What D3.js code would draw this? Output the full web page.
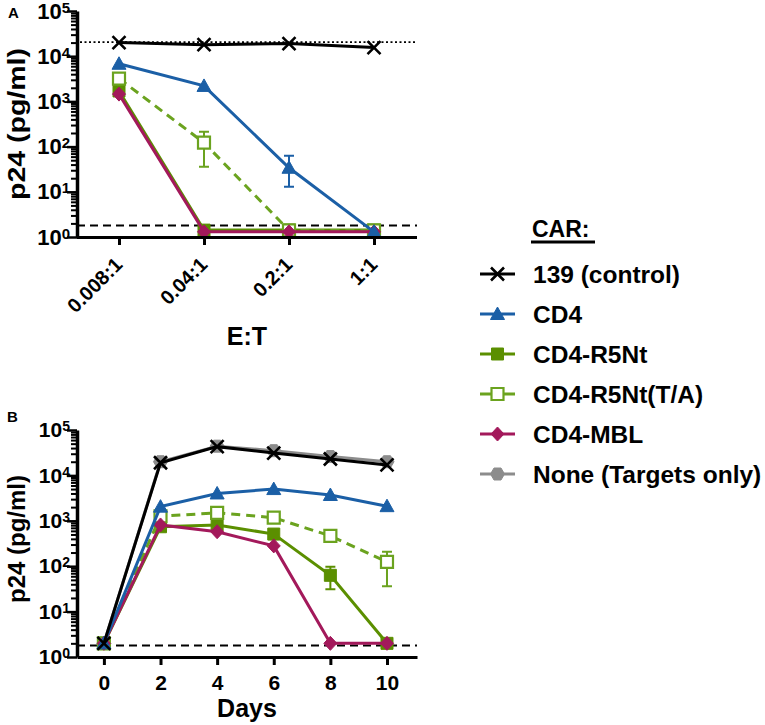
<!DOCTYPE html>
<html>
<head>
<meta charset="utf-8">
<title>p24 CAR panels</title>
<script src="https://d3js.org/d3.v7.min.js"></script>
<style>
  body { margin: 0; background: #fff; }
  text { font-family: "Liberation Sans", Arial, sans-serif; font-weight: bold; fill: #000; }
</style>
</head>
<body>
<div id="chart"></div>
<script>
// ---- data ----
var ratios = ["0.008:1", "0.04:1", "0.2:1", "1:1"];
var days = [0, 2, 4, 6, 8, 10];
var seriesNames = ["139 (control)", "CD4", "CD4-R5Nt", "CD4-R5Nt(T/A)", "CD4-MBL", "None (Targets only)"];
var seriesColors = ["#000000", "#1b5fa6", "#5b8f00", "#6ba31f", "#a3195b", "#8c8c8c"];
var seriesMarkers = ["x", "triangle", "square", "openSquare", "diamond", "hexagon"];

// panel A: E:T titration
var ctrlA = [20000, 18000, 19000, 15500];
var cd4A = [6800, 2200, 34, 1.3];
var r5ntA = [1700, 1.42, 1.42, 1.42];
var r5ntTAA = [3200, 122, 1.4, 1.4];
var mblA = [1450, 1.3, 1.3, 1.3];
var cd4ErrA = [null, null, [13, 63], null];
var r5ntTAErrA = [null, [36, 214], null, null];
var targetsOnlyA = 20500;

// panel B: time course
var ctrlB = [2, 19000, 43000, 31000, 23000, 17000];
var cd4B = [2, 2050, 4000, 5000, 3700, 2100];
var r5ntB = [2, 740, 810, 510, 63, 2];
var r5ntTAB = [2, 1260, 1500, 1170, 466, 125];
var mblB = [2, 810, 575, 280, 2, 2];
var noneB = [2, 20000, 44000, 35000, 26000, 20000];
var r5ntErrB = [null, null, null, null, [31, 97], null];
var r5ntTAErrB = [null, null, null, null, null, [36, 208]];

var detectionLimit = 1.8;
var yMajor = [1, 10, 100, 1000, 10000, 100000];
var yMinor = [];
[1, 10, 100, 1000, 10000].forEach(function(d) {
  for (var k = 2; k <= 9; k++) yMinor.push(d * k);
});

// ---- svg ----
var svg = d3.select("#chart").append("svg")
  .attr("width", 765)
  .attr("height", 725);

svg.append("rect").attr("width", 765).attr("height", 725).attr("fill", "#fff");

// marker path by type
function markerPath(type) {
  if (type == "x") return "M-6.5,-6.5L6.5,6.5M-6.5,6.5L6.5,-6.5";
  if (type == "triangle") return "M0,-7L7,5.5L-7,5.5Z";
  if (type == "square" || type == "openSquare") return "M-6,-6H6V6H-6Z";
  if (type == "diamond") return "M0,-7L6.5,0L0,7L-6.5,0Z";
  return "M-7,0L-3.5,-6L3.5,-6L7,0L3.5,6L-3.5,6Z";
}

function drawMarker(g, type, color, cx, cy) {
  var p = g.append("path")
    .attr("d", markerPath(type))
    .attr("transform", "translate(" + cx + "," + cy + ")");
  if (type == "x") {
    p.attr("fill", "none").attr("stroke", color).attr("stroke-width", 2.6);
  } else if (type == "openSquare") {
    p.attr("fill", "#fff").attr("stroke", color).attr("stroke-width", 2.2);
  } else {
    p.attr("fill", color).attr("stroke", color).attr("stroke-width", 1);
  }
}

function drawSeries(g, xs, vals, x, y, idx, dashed, err) {
  var color = seriesColors[idx];
  var pts = xs.map(function(d, i) { return [x(d), y(vals[i])]; });
  g.append("path")
    .attr("d", d3.line()(pts))
    .attr("fill", "none")
    .attr("stroke", color)
    .attr("stroke-width", 3)
    .attr("stroke-dasharray", dashed ? "9,6" : null);
  if (err) {
    err.forEach(function(e, i) {
      if (!e) return;
      var cx = x(xs[i]);
      g.append("path")
        .attr("d", "M" + cx + "," + y(e[0]) + "V" + y(e[1]) +
          "M" + (cx - 5) + "," + y(e[0]) + "H" + (cx + 5) +
          "M" + (cx - 5) + "," + y(e[1]) + "H" + (cx + 5))
        .attr("fill", "none")
        .attr("stroke", color)
        .attr("stroke-width", 2);
    });
  }
  pts.forEach(function(p) { drawMarker(g, seriesMarkers[idx], color, p[0], p[1]); });
}

function drawYAxis(g, y, x0, fontSize) {
  var minor = g.append("g")
    .attr("transform", "translate(" + x0 + ",0)")
    .call(d3.axisLeft(y).tickValues(yMinor).tickSize(6).tickSizeOuter(0).tickFormat(""));
  minor.select(".domain").remove();
  minor.selectAll("line").attr("stroke-width", 2);

  var major = g.append("g")
    .attr("transform", "translate(" + x0 + ",0)")
    .call(d3.axisLeft(y).tickValues(yMajor).tickSize(10).tickSizeOuter(0).tickFormat(function() { return "10"; }));
  major.select(".domain").attr("stroke-width", 3.5);
  major.selectAll("line").attr("stroke-width", 2.5);
  major.selectAll("text")
    .attr("x", -7)
    .style("font-size", fontSize + "px")
    .each(function(d) {
      d3.select(this).append("tspan")
        .attr("dy", -6)
        .style("font-size", Math.round(fontSize * 0.66) + "px")
        .text(Math.round(Math.log10(d)));
    });
  major.attr("font-family", null);
}

function refLine(g, y, val, x1, x2, dash, w) {
  g.append("line")
    .attr("x1", x1).attr("x2", x2)
    .attr("y1", y(val)).attr("y2", y(val))
    .attr("stroke", "#000")
    .attr("stroke-width", w)
    .attr("stroke-dasharray", dash);
}

// ---- panel A ----
var xA = d3.scalePoint().domain(ratios).range([76.5, 416.5]).padding(0.5);
var yA = d3.scaleLog().domain([1, 100000]).range([237, 11]);
var gA = svg.append("g");

refLine(gA, yA, targetsOnlyA, 80, 416, "2,2.5", 1.6);
refLine(gA, yA, detectionLimit, 77, 417, "8,5", 2);

drawSeries(gA, ratios, r5ntA, xA, yA, 2, false, null);
drawSeries(gA, ratios, r5ntTAA, xA, yA, 3, true, r5ntTAErrA);
drawSeries(gA, ratios, mblA, xA, yA, 4, false, null);
drawSeries(gA, ratios, cd4A, xA, yA, 1, false, cd4ErrA);
drawSeries(gA, ratios, ctrlA, xA, yA, 0, false, null);

var xAxisA = gA.append("g")
  .attr("transform", "translate(0,237)")
  .call(d3.axisBottom(xA).tickSize(8).tickSizeOuter(0));
xAxisA.attr("font-family", null);
xAxisA.select(".domain").attr("stroke-width", 3);
xAxisA.selectAll("line").attr("stroke-width", 3);
xAxisA.selectAll("text")
  .attr("y", 0).attr("x", 0).attr("dy", 0)
  .attr("text-anchor", "end")
  .attr("transform", "translate(4,29) rotate(-45)")
  .style("font-size", "20px");

drawYAxis(gA, yA, 77, 22);

gA.append("text")
  .attr("transform", "translate(25,124) rotate(-90)")
  .attr("text-anchor", "middle")
  .attr("textLength", 152)
  .attr("lengthAdjust", "spacingAndGlyphs")
  .style("font-size", "23px")
  .text("p24 (pg/ml)");

gA.append("text")
  .attr("x", 247).attr("y", 345)
  .attr("text-anchor", "middle")
  .style("font-size", "25px")
  .text("E:T");

svg.append("text").attr("x", 8).attr("y", 18).style("font-size", "15px").text("A");

// ---- panel B ----
var xB = d3.scaleLinear().domain([-0.95, 11.06]).range([77, 417]);
var yB = d3.scaleLog().domain([1, 100000]).range([657, 430]);
var gB = svg.append("g");

refLine(gB, yB, detectionLimit, 77, 417, "8,5", 2);

drawSeries(gB, days, noneB, xB, yB, 5, false, null);
drawSeries(gB, days, r5ntB, xB, yB, 2, false, r5ntErrB);
drawSeries(gB, days, r5ntTAB, xB, yB, 3, true, r5ntTAErrB);
drawSeries(gB, days, mblB, xB, yB, 4, false, null);
drawSeries(gB, days, cd4B, xB, yB, 1, false, null);
drawSeries(gB, days, ctrlB, xB, yB, 0, false, null);

var xAxisB = gB.append("g")
  .attr("transform", "translate(0,657)")
  .call(d3.axisBottom(xB).tickValues(days).tickSize(8).tickPadding(10).tickSizeOuter(0));
xAxisB.attr("font-family", null);
xAxisB.select(".domain").attr("stroke-width", 3);
xAxisB.selectAll("line").attr("stroke-width", 3);
xAxisB.selectAll("text").style("font-size", "21px");

drawYAxis(gB, yB, 77, 21);

gB.append("text")
  .attr("transform", "translate(25,539) rotate(-90)")
  .attr("text-anchor", "middle")
  .attr("textLength", 128)
  .attr("lengthAdjust", "spacingAndGlyphs")
  .style("font-size", "23px")
  .text("p24 (pg/ml)");

gB.append("text")
  .attr("x", 247).attr("y", 717)
  .attr("text-anchor", "middle")
  .style("font-size", "25px")
  .text("Days");

svg.append("text").attr("x", 7).attr("y", 422).style("font-size", "15px").text("B");

// ---- legend ----
var legend = svg.append("g");
legend.append("text")
  .attr("x", 532).attr("y", 237)
  .style("font-size", "23px")
  .text("CAR:");
legend.append("line")
  .attr("x1", 531).attr("x2", 595)
  .attr("y1", 242).attr("y2", 242)
  .attr("stroke", "#000").attr("stroke-width", 3);

seriesNames.forEach(function(name, i) {
  var cy = 274 + i * 40;
  legend.append("line")
    .attr("x1", 480).attr("x2", 515)
    .attr("y1", cy).attr("y2", cy)
    .attr("stroke", seriesColors[i]).attr("stroke-width", 3);
  drawMarker(legend, seriesMarkers[i], seriesColors[i], 497.5, cy);
  legend.append("text")
    .attr("x", 533).attr("y", cy + 8.5)
    .style("font-size", "24.5px")
    .text(name);
});
</script>
</body>
</html>
